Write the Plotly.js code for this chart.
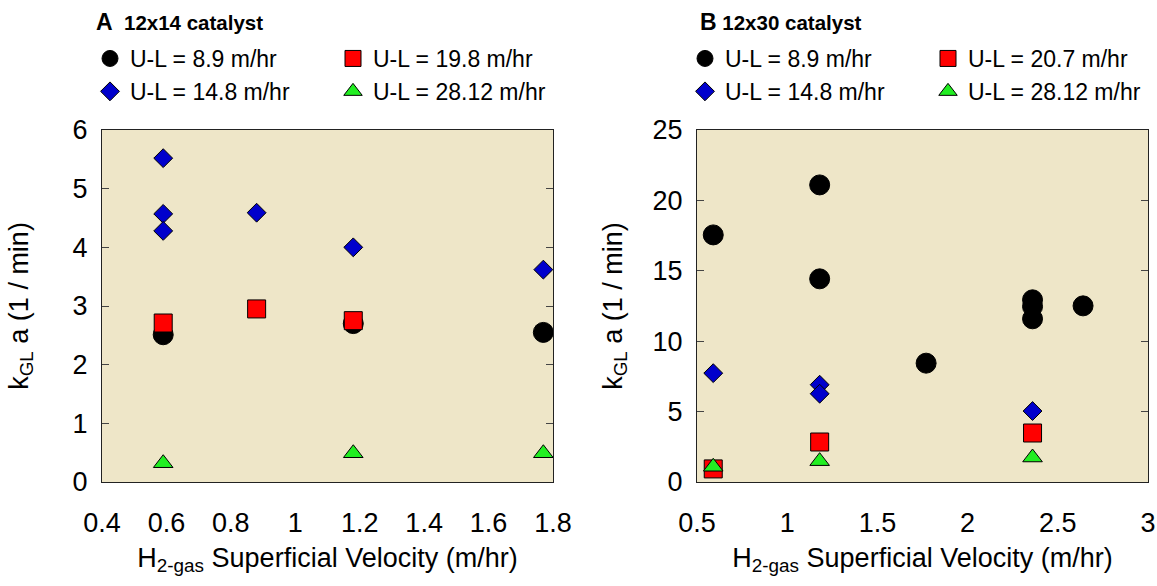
<!DOCTYPE html>
<html>
<head>
<meta charset="utf-8">
<script src="https://cdn.plot.ly/plotly-3.0.1.min.js"></script>
<style>html,body{margin:0;padding:0;background:#fff;}#chart{width:1157px;height:586px;}</style>
</head>
<body>
<div id="chart"></div>
<script>
// ---------- Panel A: 12x14 catalyst ----------
const seriesNamesA = ["U-L = 8.9 m/hr", "U-L = 14.8 m/hr", "U-L = 19.8 m/hr", "U-L = 28.12 m/hr"];
const xA_89   = [0.59, 1.18, 1.77];
const yA_89   = [2.51, 2.70, 2.55];
const xA_148  = [0.59, 0.59, 0.59, 0.88, 1.18, 1.77];
const yA_148  = [5.52, 4.57, 4.28, 4.59, 4.00, 3.62];
const xA_198  = [0.59, 0.88, 1.18];
const yA_198  = [2.71, 2.95, 2.75];
const xA_2812 = [0.59, 1.18, 1.77];
const yA_2812 = [0.32, 0.49, 0.49];

// ---------- Panel B: 12x30 catalyst ----------
const seriesNamesB = ["U-L = 8.9 m/hr", "U-L = 14.8 m/hr", "U-L = 20.7 m/hr", "U-L = 28.12 m/hr"];
const xB_89   = [0.59, 1.18, 1.18, 1.77, 2.36, 2.36, 2.36, 2.64];
const yB_89   = [17.55, 21.1, 14.43, 8.44, 12.94, 12.46, 11.59, 12.51];
const xB_148  = [0.59, 1.18, 1.18, 2.36];
const yB_148  = [7.73, 6.91, 6.27, 5.04];
const xB_207  = [0.59, 1.18, 2.36];
const yB_207  = [0.93, 2.84, 3.48];
const xB_2812 = [0.59, 1.18, 2.36];
const yB_2812 = [1.08, 1.48, 1.74];

const titleA = "<b><span style='font-size:23px'>A</span>  12x14 catalyst</b>";
const titleB = "<b><span style='font-size:23px'>B</span> 12x30 catalyst</b>";
const xTitle = "H<sub>2-gas</sub> Superficial Velocity (m/hr)";
const yTitle = "k<sub>GL</sub> a (1 / min)";

const FONT = "Arial, 'Liberation Sans', Helvetica, sans-serif";
const W = 1157, H = 586;
const M = {l: 102, r: 9, t: 130, b: 104};
const PW = W - M.l - M.r, PH = H - M.t - M.b;
const px = v => (v - M.l) / PW;
const py = v => (H - M.b - v) / PH;

const styles = [
  {symbol: 'circle', size: 20, color: '#000000', line: {color: '#000000', width: 1}},
  {symbol: 'diamond', size: 14.5, color: '#0000CC', line: {color: '#000000', width: 1}},
  {symbol: 'square', size: 18, color: '#FF0000', line: {color: '#000000', width: 1}},
  {symbol: 'triangle-up', size: 17, color: '#22EE22', line: {color: '#000000', width: 1}}
];

function tr(x, y, name, st, xa, ya, leg) {
  return {
    type: 'scatter', mode: 'markers', x: x, y: y, name: name,
    xaxis: xa, yaxis: ya, legend: leg, legendgroup: name + leg,
    marker: {symbol: st.symbol, size: st.size, color: st.color, line: st.line},
    hoverinfo: 'x+y'
  };
}

const data = [
  tr(xA_89,   yA_89,   seriesNamesA[0], styles[0], 'x',  'y',  'legend'),
  tr(xA_148,  yA_148,  seriesNamesA[1], styles[1], 'x',  'y',  'legend'),
  tr(xA_198,  yA_198,  seriesNamesA[2], styles[2], 'x',  'y',  'legend2'),
  tr(xA_2812, yA_2812, seriesNamesA[3], styles[3], 'x',  'y',  'legend2'),
  tr(xB_89,   yB_89,   seriesNamesB[0], styles[0], 'x2', 'y2', 'legend3'),
  tr(xB_148,  yB_148,  seriesNamesB[1], styles[1], 'x2', 'y2', 'legend3'),
  tr(xB_207,  yB_207,  seriesNamesB[2], styles[2], 'x2', 'y2', 'legend4'),
  tr(xB_2812, yB_2812, seriesNamesB[3], styles[3], 'x2', 'y2', 'legend4')
];

const tickFont = {family: FONT, size: 27, color: '#000'};
const titleFont = {family: FONT, size: 27, color: '#000'};

function xAxis(domain, range, dtick, anchor) {
  return {
    domain: domain, range: range, dtick: dtick, tick0: 0, anchor: anchor,
    showgrid: false, zeroline: false, showline: true, mirror: true,
    linecolor: '#222', linewidth: 1, ticks: '', tickfont: tickFont,
    ticklabelstandoff: 17,
    title: {text: xTitle, font: titleFont, standoff: 10}
  };
}
function yAxis(range, dtick, anchor, standoff) {
  return {
    domain: [0, 1], range: range, dtick: dtick, tick0: 0, anchor: anchor,
    showgrid: false, zeroline: false, showline: true, mirror: 'ticks',
    linecolor: '#222', linewidth: 1, ticks: 'inside', ticklen: 7, tickcolor: '#444',
    tickfont: tickFont, ticklabelstandoff: 8,
    title: {text: yTitle, font: titleFont, standoff: standoff}
  };
}

function legendAt(xpx, ypx) {
  return {
    x: px(xpx), y: py(ypx), xanchor: 'left', yanchor: 'top',
    bgcolor: 'rgba(0,0,0,0)', borderwidth: 0,
    font: {family: FONT, size: 23, color: '#000'},
    tracegroupgap: 0, itemsizing: 'trace'
  };
}

const layout = {
  width: W, height: H,
  margin: M,
  paper_bgcolor: '#ffffff',
  plot_bgcolor: '#EEE6C8',
  showlegend: true,
  font: {family: FONT, color: '#000'},
  xaxis: xAxis([0, 451 / PW], [0.4, 1.8], 0.2, 'y'),
  yaxis: yAxis([0, 6], 1, 'x', 36),
  xaxis2: xAxis([595 / PW, 1], [0.5, 3], 0.5, 'y2'),
  yaxis2: yAxis([0, 25], 5, 'x2', 22),
  legend: legendAt(90, 37),
  legend2: legendAt(333, 37),
  legend3: legendAt(685, 37),
  legend4: legendAt(928, 37),
  annotations: [
    {text: titleA, xref: 'paper', yref: 'paper', x: px(94), y: py(22), xanchor: 'left', yanchor: 'middle',
     showarrow: false, font: {family: FONT, size: 20.5, color: '#000'}},
    {text: titleB, xref: 'paper', yref: 'paper', x: px(698), y: py(22), xanchor: 'left', yanchor: 'middle',
     showarrow: false, font: {family: FONT, size: 20.5, color: '#000'}}
  ]
};

Plotly.newPlot('chart', data, layout, {displayModeBar: false, staticPlot: true});
</script>
</body>
</html>
